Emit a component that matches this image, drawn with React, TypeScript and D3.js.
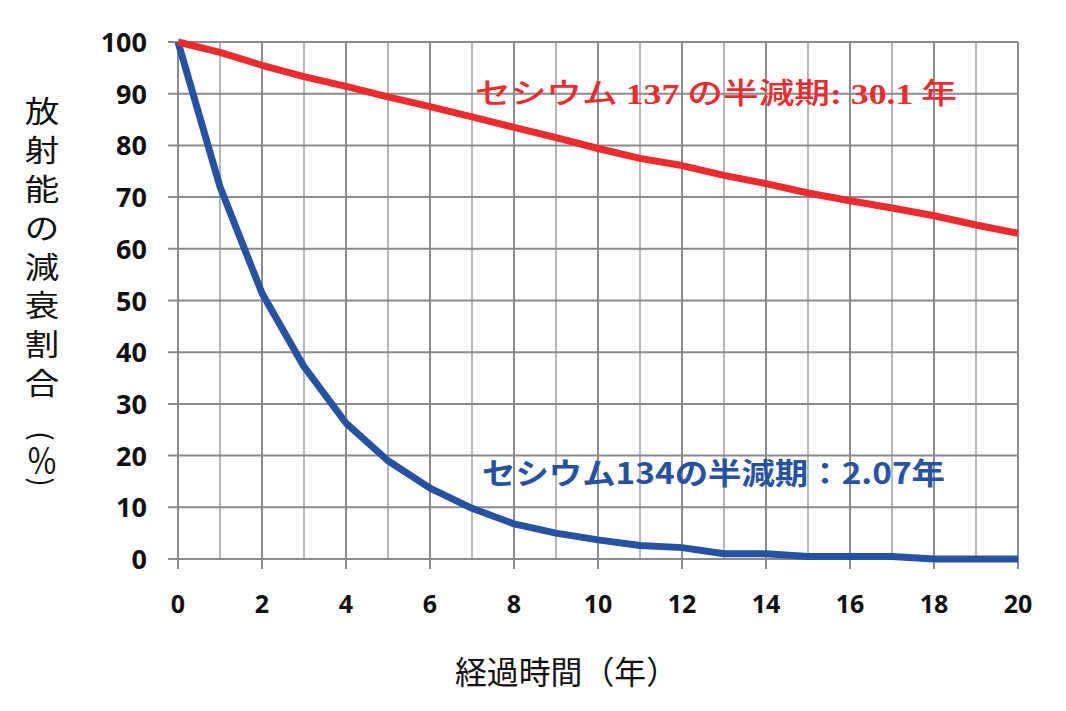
import React from "react";
import * as d3 from "d3";

const years = [0,1,2,3,4,5,6,7,8,9,10,11,12,13,14,15,16,17,18,19,20];
const cs137 = [100,98,95.5,93.3,91.4,89.4,87.5,85.5,83.5,81.5,79.4,77.5,76.1,74.2,72.6,70.8,69.3,67.9,66.4,64.6,63];
const cs134 = [100,72,51.4,37.2,26.3,19,13.7,9.8,6.8,5,3.7,2.6,2.2,1,1,0.5,0.5,0.5,0,0,0];
const yTicks = [0,10,20,30,40,50,60,70,80,90,100];
const xTicks = [0,2,4,6,8,10,12,14,16,18,20];
const yTitleChars = ["放","射","能","の","減","衰","割","合"];
const yTitleOpen = "(";
const yTitlePct = "％";
const yTitleClose = ")";
const xTitle = "経過時間（年）";
const label137Parts = ["セシウム ", "137", " の半減期", ": 30.1", " 年"];
const label134 = "セシウム134の半減期：2.07年";

export default function App() {
  const W = 1066, H = 711;
  const x = d3.scaleLinear().domain([0, 20]).range([178, 1018]);
  const y = d3.scaleLinear().domain([0, 100]).range([559, 42]);
  const line = d3.line<number>().x((_, i) => x(years[i])).y((d) => y(d));
  const dark = "#8b8b8e";
  const light = "#b6b6ba";
  const jp = "'Noto Sans CJK JP', sans-serif";
  const serif = "'Liberation Serif', 'Noto Sans CJK JP', serif";
  const num = "'Open Sans', 'DejaVu Sans', sans-serif";
  return (
    <svg width={W} height={H} style={{ position: "absolute", left: 0, top: 0, background: "#fff" }}>
      {/* vertical grid */}
      {years.filter((v) => v > 0).map((v) => (
        <line key={"vx" + v} x1={x(v)} x2={x(v)} y1={y(100)} y2={y(0)}
          stroke={v % 2 === 0 ? dark : light} strokeWidth={2} />
      ))}
      {/* horizontal grid + y ticks */}
      {yTicks.map((v) => (
        <line key={"hy" + v} x1={x(0) - 10} x2={x(20)} y1={y(v)} y2={y(v)}
          stroke={dark} strokeWidth={2} />
      ))}
      {/* x ticks */}
      {xTicks.map((v) => (
        <line key={"tx" + v} x1={x(v)} x2={x(v)} y1={y(0)} y2={y(0) + 10}
          stroke={dark} strokeWidth={2} />
      ))}
      {/* left axis */}
      <line x1={x(0)} x2={x(0)} y1={y(100)} y2={y(0) + 10} stroke={dark} strokeWidth={2} />

      {/* series */}
      <path d={line(cs134) || ""} fill="none" stroke="#2652a3" strokeWidth={7} strokeLinejoin="round" />
      <path d={line(cs137) || ""} fill="none" stroke="#ee2b2c" strokeWidth={7} strokeLinejoin="round" />

      {/* y tick labels */}
      {yTicks.map((v) => (
        <text key={"yl" + v} x={147} y={y(v) + 10} textAnchor="end"
          fontFamily={num} fontWeight={700} fontSize={27} fill="#111">{v}</text>
      ))}
      {/* x tick labels */}
      {xTicks.map((v) => (
        <text key={"xl" + v} x={x(v)} y={613} textAnchor="middle"
          fontFamily={num} fontWeight={700} fontSize={25} fill="#111">{v}</text>
      ))}

      {/* y title */}
      {yTitleChars.map((c, i) => (
        <text key={"yt" + i} transform={`translate(42, ${109 + i * 38.9}) scale(1.15, 1)`}
          textAnchor="middle" dominantBaseline="central" fontFamily={jp} fontSize={30} fill="#111">{c}</text>
      ))}
      <text transform="translate(43, 436) rotate(90)" textAnchor="middle" dominantBaseline="central"
        fontFamily={jp} fontSize={28} fill="#111">{yTitleOpen}</text>
      <text transform="translate(42, 459) scale(1, 1.15)" textAnchor="middle" dominantBaseline="central"
        fontFamily={jp} fontSize={31} fill="#111">{yTitlePct}</text>
      <text transform="translate(43, 482) rotate(90)" textAnchor="middle" dominantBaseline="central"
        fontFamily={jp} fontSize={28} fill="#111">{yTitleClose}</text>

      {/* x title */}
      <text x={455} y={684} textLength={223} lengthAdjust="spacingAndGlyphs"
        fontFamily={jp} fontSize={32} fill="#111">{xTitle}</text>

      {/* labels */}
      <text x={475} y={104} textLength={482} lengthAdjust="spacingAndGlyphs" fontSize={29} fill="#ee2b2c">
        {label137Parts.map((p, i) => (
          <tspan key={i} fontFamily={i % 2 === 1 ? serif : jp} fontWeight={i % 2 === 1 ? 700 : 500}>{p}</tspan>
        ))}
      </text>
      <text x={482} y={484} textLength={463} lengthAdjust="spacingAndGlyphs"
        fontFamily={jp} fontWeight={700} fontSize={30} fill="#2652a3">{label134}</text>
    </svg>
  );
}
